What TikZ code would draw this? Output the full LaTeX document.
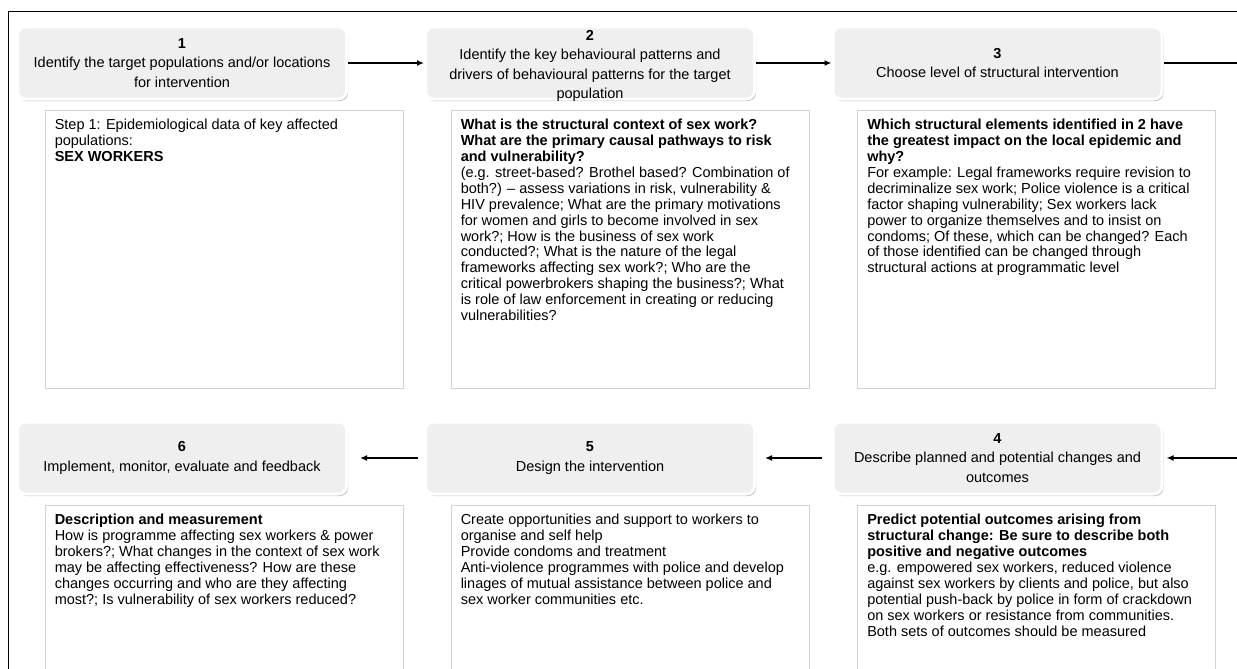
\documentclass[tikz,border=0pt]{standalone}
\usepackage{fontspec}
\setmainfont{Liberation Sans}
\usetikzlibrary{arrows.meta,shadows}
\definecolor{hdfill}{RGB}{239,239,239}
\definecolor{bxline}{RGB}{210,210,210}
\tikzset{
  hdbox/.style={rounded corners=8pt, fill=hdfill, draw=white, line width=3pt, minimum width=329pt, minimum height=72pt, inner sep=0pt,
    drop shadow={shadow xshift=1.5pt, shadow yshift=-2pt, opacity=0.55, fill=black!45}},
  hdtext/.style={align=center, inner sep=0pt, font=\fontsize{14.5}{19.3}\selectfont},
  bodybox/.style={draw=bxline, line width=0.9pt, minimum width=358pt, minimum height=278pt, inner sep=0pt},
  bodytext/.style={anchor=north west, align=left, inner xsep=10pt, inner ysep=9.5pt, font=\fontsize{14.5}{15.9}\selectfont},
  arr/.style={line width=1.4pt, -{Latex[length=7pt,width=6pt]}},
  conn/.style={line width=1.4pt}
}
\begin{document}
\begin{tikzpicture}[x=1pt,y=1pt,yscale=-1,xscale=1]
        \useasboundingbox (0,0) rectangle (1237,669);
        \clip (0,0) rectangle (1237,669);
        
        %Shape: outer frame (cut at right and bottom)
        \draw [line width=1.5pt] (8.5,700) -- (8.5,11.5) -- (1260,11.5);
        
        % Step headers, top row
        \node [hdbox, label={[hdtext]center:{\textbf{1}\\Identify the target populations and/or locations\\for intervention}}] (hd1) at (182,63) {};
        \node [hdbox, label={[hdtext, yshift=-3pt]center:{\textbf{2}\\Identify the key behavioural patterns and\\drivers of behavioural patterns for the target\\population}}] (hd2) at (590,63) {};
        \node [hdbox, label={[hdtext]center:{\textbf{3}\\Choose level of structural intervention}}] (hd3) at (997.5,63) {};
        % Step headers, bottom row
        \node [hdbox, label={[hdtext]center:{\textbf{6}\\Implement, monitor, evaluate and feedback}}] (hd6) at (182,458) {};
        \node [hdbox, label={[hdtext]center:{\textbf{5}\\Design the intervention}}] (hd5) at (590,458) {};
        \node [hdbox, label={[hdtext]center:{\textbf{4}\\Describe planned and potential changes and\\outcomes}}] (hd4) at (997.5,458) {};
        
        % Text boxes, top row
        \node [bodybox] (bx1) at (224,249) {};
        \node [bodybox] (bx2) at (630,249) {};
        \node [bodybox] (bx3) at (1036.5,249) {};
        % Text boxes, bottom row
        \node [bodybox] (bx6) at (224,644) {};
        \node [bodybox] (bx5) at (630,644) {};
        \node [bodybox] (bx4) at (1036.5,644) {};
        
        % Text Node
        \node [bodytext] (tx1) at (bx1.north west) {Step 1: Epidemiological data of key affected\\populations:\\\textbf{SEX WORKERS}};
        % Text Node
        \node [bodytext] (tx2) at (bx2.north west) {\textbf{What is the structural context of sex work?}\\
          \textbf{What are the primary causal pathways to risk}\\
          \textbf{and vulnerability?}\\
          (e.g. street-based? Brothel based? Combination of\\
          both?) – assess variations in risk, vulnerability \&\\
          HIV prevalence; What are the primary motivations\\
          for women and girls to become involved in sex\\
          work?; How is the business of sex work\\
          conducted?; What is the nature of the legal\\
          frameworks affecting sex work?; Who are the\\
          critical powerbrokers shaping the business?; What\\
          is role of law enforcement in creating or reducing\\
          vulnerabilities?};
        % Text Node
        \node [bodytext] (tx3) at (bx3.north west) {\textbf{Which structural elements identified in 2 have}\\
          \textbf{the greatest impact on the local epidemic and}\\
          \textbf{why?}\\
          For example: Legal frameworks require revision to\\
          decriminalize sex work; Police violence is a critical\\
          factor shaping vulnerability; Sex workers lack\\
          power to organize themselves and to insist on\\
          condoms; Of these, which can be changed? Each\\
          of those identified can be changed through\\
          structural actions at programmatic level};
        % Text Node
        \node [bodytext] (tx6) at (bx6.north west) {\textbf{Description and measurement}\\
          How is programme affecting sex workers \& power\\
          brokers?; What changes in the context of sex work\\
          may be affecting effectiveness? How are these\\
          changes occurring and who are they affecting\\
          most?; Is vulnerability of sex workers reduced?};
        % Text Node
        \node [bodytext] (tx5) at (bx5.north west) {Create opportunities and support to workers to\\
          organise and self help\\
          Provide condoms and treatment\\
          Anti-violence programmes with police and develop\\
          linages of mutual assistance between police and\\
          sex worker communities etc.};
        % Text Node
        \node [bodytext] (tx4) at (bx4.north west) {\textbf{Predict potential outcomes arising from}\\
          \textbf{structural change: Be sure to describe both}\\
          \textbf{positive and negative outcomes}\\
          e.g. empowered sex workers, reduced violence\\
          against sex workers by clients and police, but also\\
          potential push-back by police in form of crackdown\\
          on sex workers or resistance from communities.\\
          Both sets of outcomes should be measured};
        
        % Connectors
        \coordinate (edgeR1) at (1245,63);
        \coordinate (edgeR2) at (1245,458);
        \draw [arr] (hd1) -- (hd2);
        \draw [arr] (hd2) -- (hd3);
        \draw [conn] (hd3) -- (edgeR1);
        \draw [arr, shorten >=3pt] (edgeR2) -- (hd4);
        \draw [arr, shorten <=10pt, shorten >=9pt] (hd4) -- (hd5);
        \draw [arr, shorten <=6pt, shorten >=12pt] (hd5) -- (hd6);
        
\end{tikzpicture}
\end{document}
